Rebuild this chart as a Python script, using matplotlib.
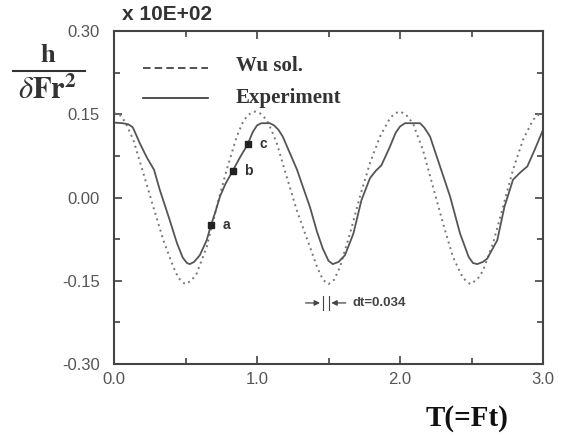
import matplotlib.pyplot as plt
from matplotlib.ticker import MultipleLocator

# Wu solution (dotted)
wu_t = [0.00, 0.04, 0.077, 0.135, 0.205, 0.275, 0.345, 0.415, 0.45, 0.497,
        0.54, 0.578, 0.648, 0.718, 0.788, 0.858, 0.90, 0.928, 0.96, 0.99,
        1.02, 1.068, 1.10, 1.138, 1.208, 1.278, 1.37, 1.42, 1.46, 1.50,
        1.54, 1.58, 1.65, 1.72, 1.79, 1.86, 1.93, 1.965, 2.0, 2.04,
        2.09, 2.16, 2.23, 2.30, 2.37, 2.44, 2.49, 2.54, 2.58, 2.65,
        2.72, 2.79, 2.86, 2.93, 2.98, 3.0]
wu_h = [0.152, 0.149, 0.137, 0.104, 0.044, -0.017, -0.077, -0.125, -0.145, -0.156,
        -0.150, -0.137, -0.089, -0.017, 0.050, 0.110, 0.135, 0.146, 0.153, 0.155,
        0.152, 0.140, 0.122, 0.098, 0.037, -0.023, -0.089, -0.125, -0.148, -0.156,
        -0.148, -0.125, -0.065, 0.002, 0.062, 0.110, 0.143, 0.152, 0.155, 0.150,
        0.134, 0.086, 0.020, -0.046, -0.107, -0.145, -0.156, -0.148, -0.132, -0.083,
        -0.017, 0.050, 0.104, 0.140, 0.152, 0.153]

# experiment (solid)
exp_t = [0.00, 0.06, 0.10, 0.13, 0.155, 0.18, 0.23, 0.28, 0.32, 0.39,
         0.44, 0.48, 0.51, 0.53, 0.56, 0.60, 0.648, 0.678, 0.71, 0.741,
         0.78, 0.83, 0.88, 0.935, 0.97, 1.00, 1.03, 1.09, 1.12, 1.15,
         1.18, 1.23, 1.28, 1.32, 1.37, 1.42, 1.46, 1.50, 1.53, 1.57,
         1.615, 1.674, 1.73, 1.79, 1.83, 1.87, 1.90, 1.93, 1.97, 2.00,
         2.035, 2.14, 2.17, 2.21, 2.28, 2.35, 2.42, 2.48, 2.51, 2.54,
         2.58, 2.61, 2.68, 2.73, 2.79, 2.84, 2.89, 2.94, 3.0]
exp_h = [0.135, 0.134, 0.132, 0.127, 0.113, 0.098, 0.072, 0.050, 0.014, -0.041,
         -0.082, -0.108, -0.118, -0.120, -0.116, -0.104, -0.077, -0.050, -0.025, 0.002,
         0.025, 0.048, 0.072, 0.096, 0.118, 0.130, 0.134, 0.134, 0.130, 0.122,
         0.110, 0.080, 0.050, 0.020, -0.017, -0.062, -0.092, -0.114, -0.120, -0.116,
         -0.104, -0.065, -0.005, 0.035, 0.048, 0.058, 0.075, 0.092, 0.117, 0.128,
         0.134, 0.134, 0.126, 0.110, 0.056, 0.002, -0.065, -0.107, -0.118, -0.120,
         -0.116, -0.110, -0.077, -0.017, 0.032, 0.045, 0.056, 0.085, 0.122]

# marked instants
mark_t = [0.678, 0.83, 0.935]
mark_h = [-0.050, 0.048, 0.096]
mark_lbl = ['a', 'b', 'c']

plt.rcParams['mathtext.fontset'] = 'stix'

fig = plt.figure(figsize=(5.63, 4.38), dpi=100)
ax = fig.add_axes([0.2025, 0.169, 0.762, 0.760])

ax.plot(wu_t, wu_h, linestyle=(0, (1, 2)), color='#777777', lw=1.4)
ax.plot(exp_t, exp_h, '-', color='#555555', lw=1.3)
ax.plot(mark_t, mark_h, 's', color='#222222', ms=5)
for t, h, s in zip(mark_t, mark_h, mark_lbl):
    ax.text(t + 0.08, h, s, fontsize=10, fontweight='bold', color='#333333',
            va='center', family='Liberation Sans')

# dt marker
ax.annotate('', xy=(1.46, -0.19), xytext=(1.32, -0.19),
            arrowprops=dict(arrowstyle='-|>', color='#444444', lw=0.9, mutation_scale=8))
ax.annotate('', xy=(1.50, -0.19), xytext=(1.64, -0.19),
            arrowprops=dict(arrowstyle='-|>', color='#444444', lw=0.9, mutation_scale=8))
ax.plot([1.46, 1.46], [-0.203, -0.177], color='#444444', lw=0.8)
ax.plot([1.50, 1.50], [-0.203, -0.177], color='#444444', lw=0.8)
ax.text(1.67, -0.19, 'dt=0.034', fontsize=9.5, fontweight='bold', color='#444444',
        va='center', family='Liberation Sans')

# hand-made legend
ax.plot([0.068, 0.219], [0.89, 0.89], transform=ax.transAxes,
        linestyle=(0, (4.5, 2.5)), color='#333333', lw=1.2)
ax.plot([0.068, 0.219], [0.80, 0.80], transform=ax.transAxes, color='#333333', lw=1.2)
ax.text(0.284, 0.896, 'Wu sol.', transform=ax.transAxes, fontsize=15,
        fontweight='bold', family='Liberation Serif', color='#333333', va='center')
ax.text(0.284, 0.80, 'Experiment', transform=ax.transAxes, fontsize=15,
        fontweight='bold', family='Liberation Serif', color='#333333', va='center')

ax.set_xlim(0, 3.0)
ax.set_ylim(-0.30, 0.30)
ax.xaxis.set_major_locator(MultipleLocator(1.0))
ax.xaxis.set_minor_locator(MultipleLocator(0.5))
ax.yaxis.set_major_locator(MultipleLocator(0.15))
ax.yaxis.set_minor_locator(MultipleLocator(0.075))
ax.xaxis.set_major_formatter(plt.FormatStrFormatter('%.1f'))
ax.yaxis.set_major_formatter(plt.FormatStrFormatter('%.2f'))
ax.tick_params(which='both', direction='in', top=True, right=True,
               color='#444444', width=1.2, labelsize=12, labelcolor='#555555')
ax.tick_params(which='major', length=6)
ax.tick_params(which='minor', length=4)
ax.tick_params(axis='y', pad=10)
ax.tick_params(axis='x', pad=6)
for lab in ax.get_xticklabels() + ax.get_yticklabels():
    lab.set_family('Liberation Sans')
for sp in ax.spines.values():
    sp.set_color('#444444')
    sp.set_linewidth(1.5)

fig.text(122 / 563, 1 - 15 / 438, 'x 10E+02', fontsize=15, fontweight='bold',
         family='Liberation Sans', color='#333333', va='center')

# y label as a fraction
fig.text(48 / 563, 1 - 55 / 438, 'h', fontsize=19, fontweight='bold',
         family='Liberation Serif', color='#333333', ha='center', va='center')
fig.add_artist(plt.Line2D([13 / 563, 85 / 563], [1 - 71 / 438, 1 - 71 / 438],
                          color='#333333', lw=1.5))
fig.text(47 / 563, 1 - 90 / 438, r'$\delta\mathbf{Fr}^{\mathbf{2}}$', fontsize=22,
         color='#333333', ha='center', va='center')

fig.text(467 / 563, 1 - 418 / 438, 'T(=Ft)', fontsize=21, fontweight='bold',
         family='Liberation Serif', color='#111111', ha='center', va='center')

fig.savefig('out.png', dpi=100)
